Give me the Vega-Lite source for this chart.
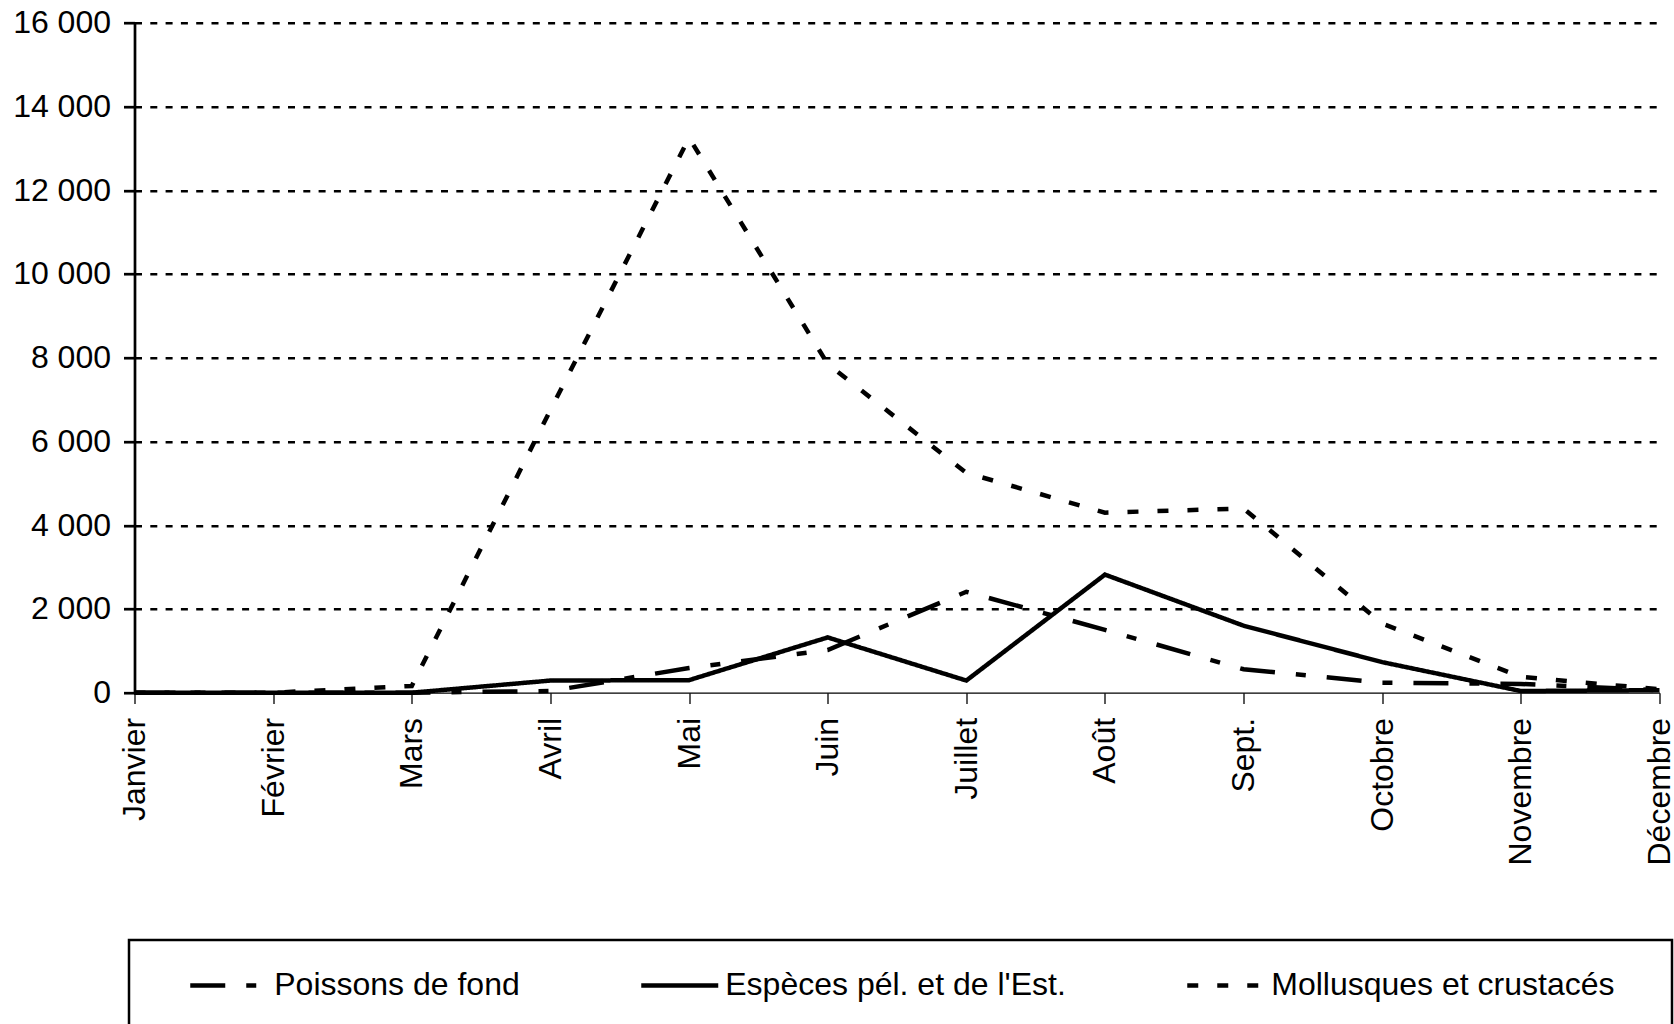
{
  "$schema": "https://vega.github.io/schema/vega-lite/v6.json",
  "width": 1525,
  "height": 670,
  "autosize": {"type": "none"},
  "padding": {"left": 134.5, "top": 22.7, "right": 14.5, "bottom": 331.3},
  "background": "white",
  "config": {"view": {"stroke": null}, "font": "Liberation Sans", "legend": {"strokeWidth": 2.5}},
  "data": {
    "values": [
      {"mois": "Janvier", "n": 1, "serie": "Poissons de fond", "valeur": 0},
      {"mois": "Février", "n": 2, "serie": "Poissons de fond", "valeur": 0},
      {"mois": "Mars", "n": 3, "serie": "Poissons de fond", "valeur": 0},
      {"mois": "Avril", "n": 4, "serie": "Poissons de fond", "valeur": 40},
      {"mois": "Mai", "n": 5, "serie": "Poissons de fond", "valeur": 590},
      {"mois": "Juin", "n": 6, "serie": "Poissons de fond", "valeur": 1020},
      {"mois": "Juillet", "n": 7, "serie": "Poissons de fond", "valeur": 2410},
      {"mois": "Août", "n": 8, "serie": "Poissons de fond", "valeur": 1500},
      {"mois": "Sept.", "n": 9, "serie": "Poissons de fond", "valeur": 560},
      {"mois": "Octobre", "n": 10, "serie": "Poissons de fond", "valeur": 240},
      {"mois": "Novembre", "n": 11, "serie": "Poissons de fond", "valeur": 210},
      {"mois": "Décembre", "n": 12, "serie": "Poissons de fond", "valeur": 60},
      {"mois": "Janvier", "n": 1, "serie": "Espèces pél. et de l'Est.", "valeur": 0},
      {"mois": "Février", "n": 2, "serie": "Espèces pél. et de l'Est.", "valeur": 0},
      {"mois": "Mars", "n": 3, "serie": "Espèces pél. et de l'Est.", "valeur": 0},
      {"mois": "Avril", "n": 4, "serie": "Espèces pél. et de l'Est.", "valeur": 290},
      {"mois": "Mai", "n": 5, "serie": "Espèces pél. et de l'Est.", "valeur": 300},
      {"mois": "Juin", "n": 6, "serie": "Espèces pél. et de l'Est.", "valeur": 1320},
      {"mois": "Juillet", "n": 7, "serie": "Espèces pél. et de l'Est.", "valeur": 290},
      {"mois": "Août", "n": 8, "serie": "Espèces pél. et de l'Est.", "valeur": 2820},
      {"mois": "Sept.", "n": 9, "serie": "Espèces pél. et de l'Est.", "valeur": 1600},
      {"mois": "Octobre", "n": 10, "serie": "Espèces pél. et de l'Est.", "valeur": 730},
      {"mois": "Novembre", "n": 11, "serie": "Espèces pél. et de l'Est.", "valeur": 40},
      {"mois": "Décembre", "n": 12, "serie": "Espèces pél. et de l'Est.", "valeur": 60},
      {"mois": "Janvier", "n": 1, "serie": "Mollusques et crustacés", "valeur": 0},
      {"mois": "Février", "n": 2, "serie": "Mollusques et crustacés", "valeur": 0},
      {"mois": "Mars", "n": 3, "serie": "Mollusques et crustacés", "valeur": 160},
      {"mois": "Avril", "n": 4, "serie": "Mollusques et crustacés", "valeur": 6750},
      {"mois": "Mai", "n": 5, "serie": "Mollusques et crustacés", "valeur": 13250},
      {"mois": "Juin", "n": 6, "serie": "Mollusques et crustacés", "valeur": 7850},
      {"mois": "Juillet", "n": 7, "serie": "Mollusques et crustacés", "valeur": 5250},
      {"mois": "Août", "n": 8, "serie": "Mollusques et crustacés", "valeur": 4300},
      {"mois": "Sept.", "n": 9, "serie": "Mollusques et crustacés", "valeur": 4400},
      {"mois": "Octobre", "n": 10, "serie": "Mollusques et crustacés", "valeur": 1650},
      {"mois": "Novembre", "n": 11, "serie": "Mollusques et crustacés", "valeur": 380},
      {"mois": "Décembre", "n": 12, "serie": "Mollusques et crustacés", "valeur": 80}
    ]
  },
  "mark": {"type": "line", "strokeWidth": 4.5, "color": "black", "strokeCap": "butt", "strokeJoin": "miter"},
  "encoding": {
    "x": {
      "field": "mois",
      "type": "ordinal",
      "sort": ["Janvier", "Février", "Mars", "Avril", "Mai", "Juin", "Juillet", "Août", "Sept.", "Octobre", "Novembre", "Décembre"],
      "scale": {"type": "point", "padding": 0},
      "axis": {
        "title": null,
        "labelAngle": -90,
        "labelFontSize": 32,
        "labelFont": "Liberation Sans",
        "labelColor": "black",
        "labelPadding": 14,
        "labelOverlap": false,
        "tickSize": 10.7,
        "tickWidth": 1.3,
        "tickColor": "black",
        "domainColor": "black",
        "domainWidth": 1.3,
        "grid": false
      }
    },
    "y": {
      "field": "valeur",
      "type": "quantitative",
      "scale": {"domain": [0, 16000], "nice": false},
      "axis": {
        "title": null,
        "values": [0, 2000, 4000, 6000, 8000, 10000, 12000, 14000, 16000],
        "labelExpr": "replace(format(datum.value, ','), ',', ' ')",
        "labelFontSize": 32,
        "labelFont": "Liberation Sans",
        "labelColor": "black",
        "labelPadding": 13,
        "tickSize": 11,
        "tickWidth": 2.7,
        "tickColor": "black",
        "domainColor": "black",
        "domainWidth": 2.7,
        "grid": true,
        "gridColor": "black",
        "gridWidth": 2.5,
        "gridDash": [7, 8.3],
        "gridOpacity": {"condition": {"test": "datum.value === 0", "value": 0}, "value": 1}
      }
    },
    "strokeDash": {
      "field": "serie",
      "type": "nominal",
      "scale": {
        "domain": ["Poissons de fond", "Espèces pél. et de l'Est.", "Mollusques et crustacés"],
        "range": [[35, 21, 10, 21], [1, 0], [11, 19]]
      },
      "legend": {
        "orient": "none",
        "legendX": -5.5,
        "legendY": 917.3,
        "direction": "horizontal",
        "columns": 3,
        "title": null,
        "symbolType": "M-1,0H1M1,1.25",
        "symbolSize": 5929,
        "symbolOffset": 54.75,
        "symbolStrokeWidth": 4.5,
        "symbolStrokeColor": "black",
        "symbolFillColor": "transparent",
        "labelFontSize": 32,
        "labelFont": "Liberation Sans",
        "labelColor": "black",
        "labelLimit": 900,
        "labelOffset": 4.5,
        "labelExpr": "datum.label == 'Mollusques et crustacés' ? datum.label + '\u00a0\u00a0\u00a0\u00a0\u00a0\u00a0\u200b' : datum.label",
        "columnPadding": 64,
        "padding": 4,
        "strokeColor": "black"
      }
    },
    "order": {"field": "n", "type": "quantitative"}
  }
}
